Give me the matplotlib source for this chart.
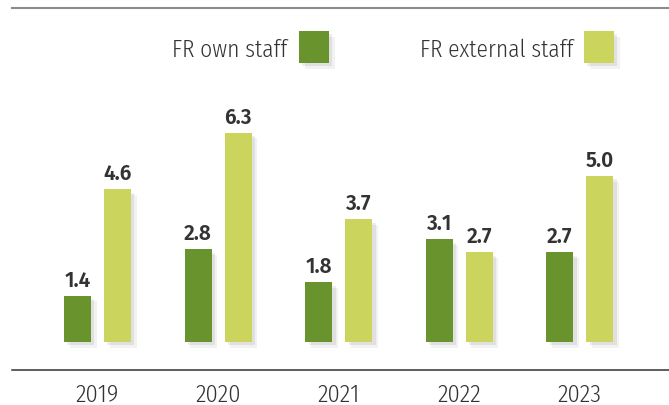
import matplotlib
matplotlib.use("Agg")
import matplotlib.pyplot as plt
import matplotlib.patheffects as pe
from matplotlib.patches import Rectangle
from matplotlib import font_manager as fm
import numpy as np

years = ["2019", "2020", "2021", "2022", "2023"]
own_staff = [1.4, 2.8, 1.8, 3.1, 2.7]
external_staff = [4.6, 6.3, 3.7, 2.7, 5.0]
series_labels = ["FR own staff", "FR external staff"]

OWN = "#69942D"
EXT = "#CBD55E"
TXT = "#333333"

names = {f.name for f in fm.fontManager.ttflist}
light_font = "Fira Sans Condensed" if "Fira Sans Condensed" in names else "DejaVu Sans"
bold_font = "Fira Sans" if "Fira Sans" in names else "DejaVu Sans"

W, H = 669, 406
fig = plt.figure(figsize=(W / 100, H / 100), dpi=100)
ax = fig.add_axes([0, 0, 1, 1])

px_per_x = 120.6
x0 = 97.5
px_per_y = 33.2
base_px = 343

ax.set_xlim(-x0 / px_per_x, (W - x0) / px_per_x)
ax.set_ylim(-(H - base_px) / px_per_y, base_px / px_per_y)
ax.axis("off")

def fx(px):
    return px / W

def fy(py):
    return 1 - py / H

x = np.arange(len(years))
bw = 27 / px_per_x
off = 20 / px_per_x

shadow = [pe.SimplePatchShadow(offset=(4, -4), shadow_rgbFace="#000000", alpha=0.05),
          pe.SimplePatchShadow(offset=(2.5, -2.5), shadow_rgbFace="#000000", alpha=0.07),
          pe.Normal()]

b1 = ax.bar(x - off, own_staff, bw, color=OWN, label=series_labels[0], zorder=3)
b2 = ax.bar(x + off, external_staff, bw, color=EXT, label=series_labels[1], zorder=3)
for bars in (b1, b2):
    for r in bars:
        r.set_path_effects(shadow)

for bars, vals in ((b1, own_staff), (b2, external_staff)):
    for r, v in zip(bars, vals):
        ax.annotate(f"{v:.1f}", (r.get_x() + r.get_width() / 2, v),
                    xytext=(0, 7.2), textcoords="offset points", ha="center", va="baseline",
                    fontsize=15, fontweight=600, family=bold_font, color=TXT)

for xi, yr in zip(x, years):
    ax.text(xi, -(402.5 - base_px) / px_per_y, yr, ha="center", va="baseline",
            fontsize=17.5, fontweight=300, family=light_font, color=TXT)

ax.axhline((base_px - 9) / px_per_y, xmin=fx(12), xmax=1, color="#8c8c8c", lw=1.5)
ax.axhline(-(371 - base_px) / px_per_y, xmin=fx(12), xmax=1, color="#333333", lw=1.1)

# legend (text followed by colour square)
leg_items = [(series_labels[0], OWN, 287, 299), (series_labels[1], EXT, 573, 584)]
for label, col, txt_right, sq_left in leg_items:
    fig.text(fx(txt_right), fy(56.7), label, ha="right", va="baseline",
             fontsize=16.8, fontweight=300, family=light_font, color=TXT)
    sq = Rectangle((fx(sq_left), fy(64)), 30 / W, 32 / H, transform=fig.transFigure,
                   facecolor=col, edgecolor="none", path_effects=shadow)
    fig.add_artist(sq)

fig.savefig("out.png", dpi=100)
